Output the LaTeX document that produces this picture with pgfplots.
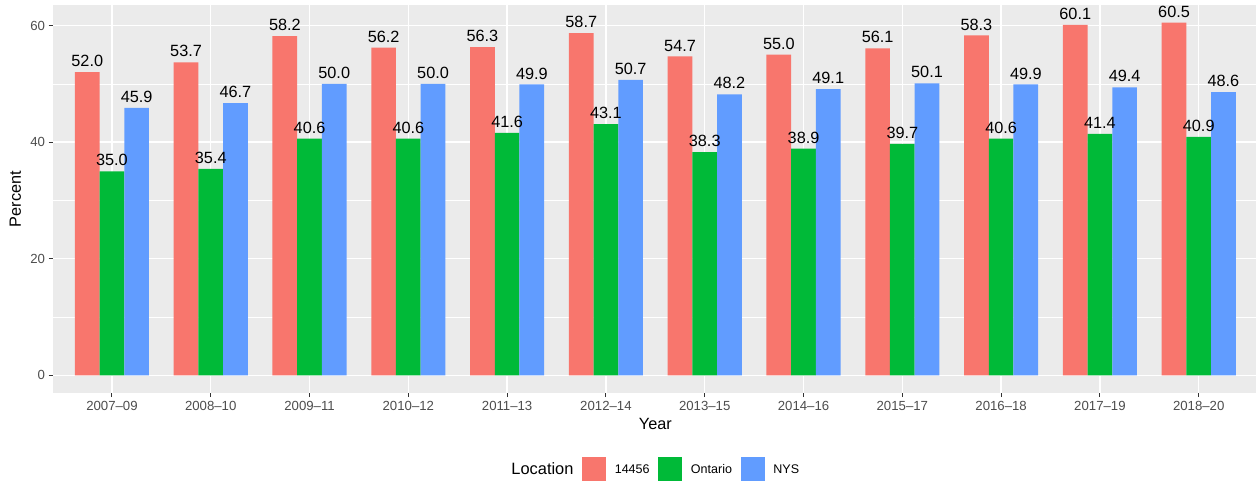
\documentclass[border=0pt]{standalone}
\usepackage{pgfplots}
\pgfplotsset{compat=1.18}
\usepackage{pgfplotstable}
\usepackage{fontspec}
\setmainfont{Liberation Sans}
\definecolor{cA}{HTML}{F8766D}
\definecolor{cB}{HTML}{00BA38}
\definecolor{cC}{HTML}{619CFF}
\definecolor{panel}{HTML}{EBEBEB}
\definecolor{ticklab}{HTML}{4D4D4D}
\definecolor{tickc}{HTML}{333333}
\pgfplotstableread{
x a b c
1 52.0 35.0 45.9
2 53.7 35.4 46.7
3 58.2 40.6 50.0
4 56.2 40.6 50.0
5 56.3 41.6 49.9
6 58.7 43.1 50.7
7 54.7 38.3 48.2
8 55.0 38.9 49.1
9 56.1 39.7 50.1
10 58.3 40.6 49.9
11 60.1 41.4 49.4
12 60.5 40.9 48.6
}\data
\begin{document}
\begin{tikzpicture}
\useasboundingbox (-39.5pt,-67.5pt) rectangle (902.5pt,294.75pt);
\begin{axis}[
  at={(0,0)}, anchor=south west,
  scale only axis, width=904pt, height=291pt,
  xmin=0.4, xmax=12.6, ymin=-3.025, ymax=63.525,
  axis background/.style={fill=panel},
  axis line style={draw=none},
  tick align=outside, tick pos=left,
  major tick length=3pt, minor tick length=0pt,
  tick style={tickc, line width=0.8pt},
  xtick={1,...,12},
  xticklabels={2007--09,2008--10,2009--11,2010--12,2011--13,2012--14,2013--15,2014--16,2015--17,2016--18,2017--19,2018--20},
  ytick={0,20,40,60}, minor ytick={10,30,50},
  xmajorgrids, ymajorgrids, yminorgrids,
  major grid style={white, line width=1pt},
  minor grid style={white, line width=0.5pt},
  /pgf/number format/assume math mode=true,
  ticklabel style={font=\fontsize{9.9}{11}\selectfont, text=ticklab},
  yticklabel style={inner xsep=2.5pt},
  xticklabel style={inner ysep=3pt},
  xlabel={Year}, ylabel={Percent},
  xlabel style={at={(axis description cs:0.5,-0.0787)}, anchor=center, font=\fontsize{12.2}{14}\selectfont},
  ylabel style={at={(axis description cs:-0.0309,0.5)}, anchor=center, font=\fontsize{12.2}{14}\selectfont},
  legend style={at={(axis description cs:0.5,-0.1959)}, anchor=center, draw=none, fill=none,
    column sep=0pt, nodes={inner xsep=6.5pt, font=\fontsize{9.4}{11}\selectfont}},
  legend columns=-1,
  every node near coord/.append style={font=\fontsize{12.2}{14}\selectfont, text=black, inner ysep=3.75pt, inner xsep=0pt},
]
\addlegendimage{empty legend}
\addlegendentry{\fontsize{12.3}{14}\selectfont Location}
\addplot[ybar, bar width=0.25, bar shift=-0.25, fill=cA, draw=none,
  legend image code/.code={\fill[cA] (0pt,-8.5pt) rectangle (18pt,9.5pt);},
  every node near coord/.append style={xshift=-18.52pt},
  nodes near coords={\pgfmathprintnumber[fixed,fixed zerofill,precision=1]{\pgfplotspointmeta}}]
  table[x=x,y=a]{\data};
\addlegendentry{14456}
\addplot[ybar, bar width=0.25, bar shift=0, fill=cB, draw=none,
  legend image code/.code={\fill[cB] (0pt,-8.5pt) rectangle (18pt,9.5pt);},
  nodes near coords={\pgfmathprintnumber[fixed,fixed zerofill,precision=1]{\pgfplotspointmeta}}]
  table[x=x,y=b]{\data};
\addlegendentry{Ontario}
\addplot[ybar, bar width=0.25, bar shift=0.25, fill=cC, draw=none,
  legend image code/.code={\fill[cC] (0pt,-8.5pt) rectangle (18pt,9.5pt);},
  every node near coord/.append style={xshift=18.52pt},
  nodes near coords={\pgfmathprintnumber[fixed,fixed zerofill,precision=1]{\pgfplotspointmeta}}]
  table[x=x,y=c]{\data};
\addlegendentry{NYS}
\end{axis}
\end{tikzpicture}
\end{document}
